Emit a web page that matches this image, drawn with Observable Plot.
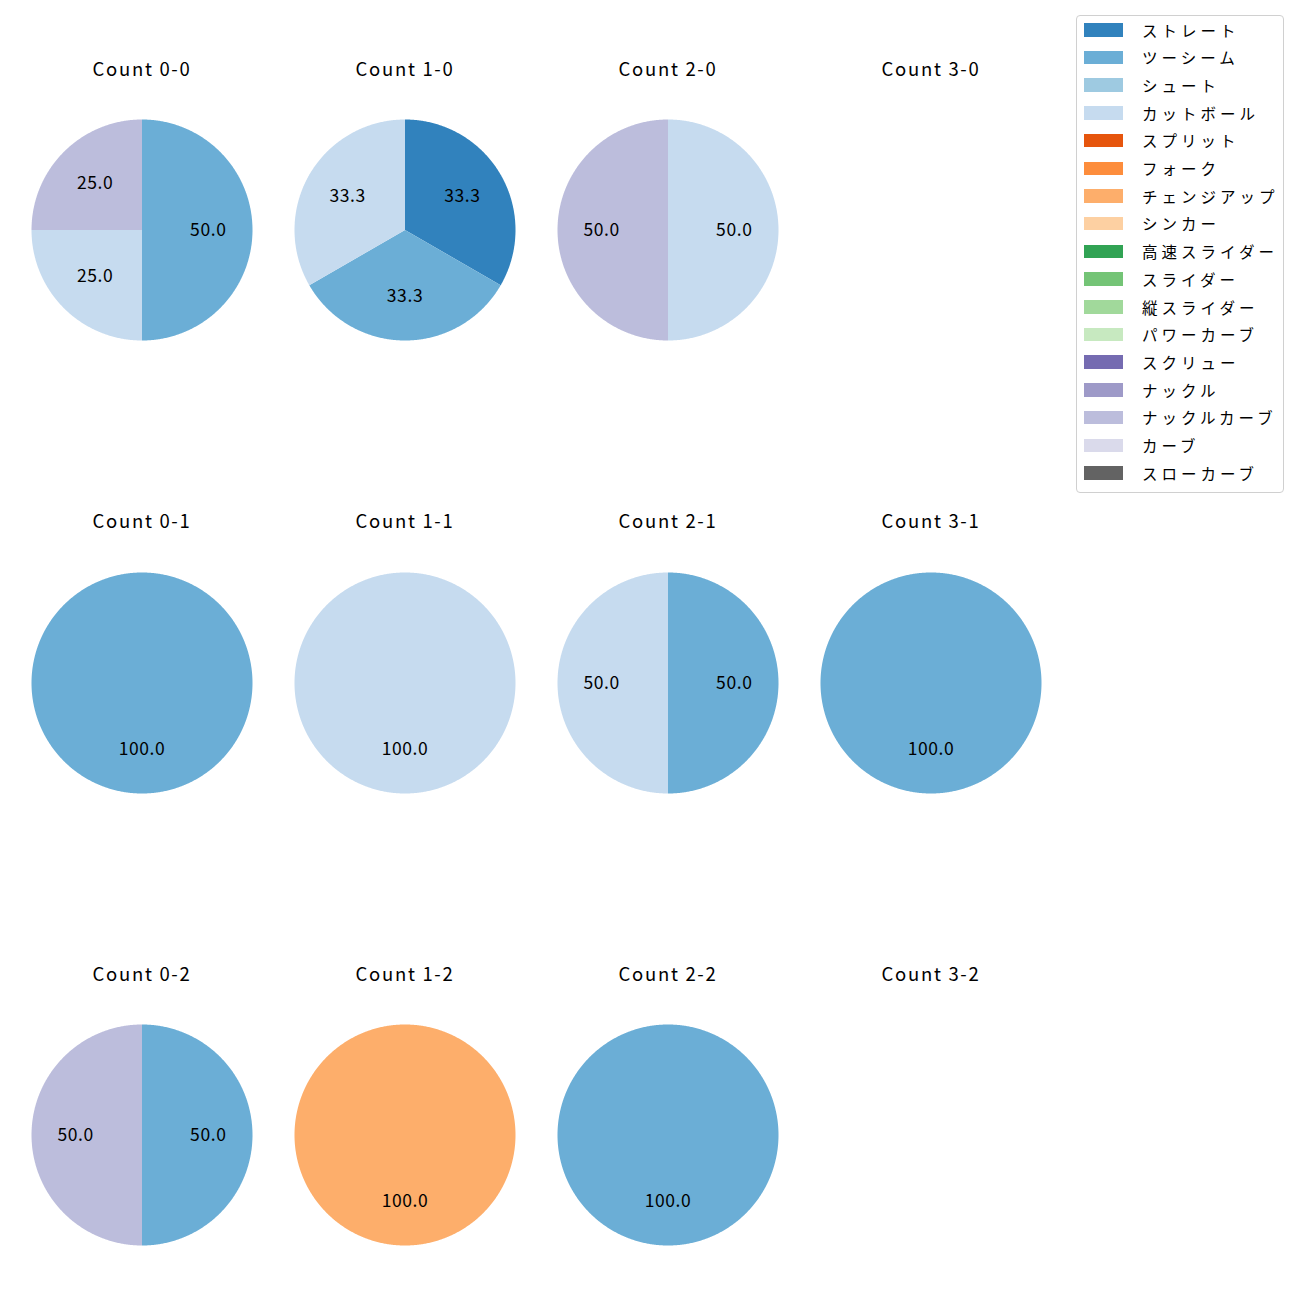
<!DOCTYPE html>
<html>
<head>
<meta charset="utf-8">
<script src="https://cdn.jsdelivr.net/npm/d3@7"></script>
<script src="https://cdn.jsdelivr.net/npm/@observablehq/plot@0.6"></script>
<style>
  html, body { margin: 0; padding: 0; background: #fff; }
  body { font-family: "Noto Sans CJK JP", "Noto Sans", sans-serif; }
  #root { position: relative; width: 1300px; height: 1300px; }
  .title { position: absolute; width: 200px; text-align: center; font-size: 18.5px; line-height: 22px; letter-spacing: 1.7px; color: #000; }
  .cell { position: absolute; }
  .legend { position: absolute; left: 1076px; top: 15px; width: 208px; height: 478px; border: 1px solid #d0d0d0; border-radius: 4px; box-sizing: border-box; background: #fff; }
  .lrow { position: absolute; left: 0; height: 20px; width: 205px; }
  .lpatch { position: absolute; left: 7px; top: 3.5px; width: 39px; height: 13.5px; }
  .ltext { position: absolute; left: 65px; top: 0; font-size: 15.5px; line-height: 20px; color: #000; white-space: nowrap; letter-spacing: 4px; }
</style>
</head>
<body>
<div id="root"></div>
<script>
// Pitch types (legend order) and colours
const pitchTypes = ["ストレート","ツーシーム","シュート","カットボール","スプリット","フォーク","チェンジアップ","シンカー","高速スライダー","スライダー","縦スライダー","パワーカーブ","スクリュー","ナックル","ナックルカーブ","カーブ","スローカーブ"];
const pitchColors = ["#3182bd","#6baed6","#9ecae1","#c6dbef","#e6550d","#fd8d3c","#fdae6b","#fdd0a2","#31a354","#74c476","#a1d99b","#c7e9c0","#756bb1","#9e9ac8","#bcbddc","#dadaeb","#636363"];

// Grid of counts: columns = balls, rows = strikes
const ballCounts = [0, 1, 2, 3];
const strikeCounts = [0, 1, 2];

// Slices: count, pitch type, number of pitches
const sliceCount = ["0-0","0-0","0-0","1-0","1-0","1-0","2-0","2-0","0-1","1-1","2-1","2-1","3-1","0-2","0-2","1-2","2-2"];
const slicePitch = ["ツーシーム","カットボール","ナックルカーブ","ストレート","ツーシーム","カットボール","カットボール","ナックルカーブ","ツーシーム","カットボール","ツーシーム","カットボール","ツーシーム","ツーシーム","ナックルカーブ","チェンジアップ","ツーシーム"];
const sliceValue = [2,1,1,1,1,1,1,1,1,1,1,1,1,1,1,1,1];

const root = document.getElementById("root");
const colCenters = [141, 404, 667, 930];
const rowCenters = [229.5, 682, 1134.5];
const titleY = [67.5, 520, 972.5];
const R = 110.5;
const M = 20;
const size = 2 * R + 2 * M;

strikeCounts.forEach((s, ri) => {
  ballCounts.forEach((b, ci) => {
    const key = `${b}-${s}`;
    const t = document.createElement("div");
    t.className = "title";
    t.textContent = `Count ${key}`;
    t.style.left = (colCenters[ci] - 100 + 1) + "px";
    t.style.top = (titleY[ri] - 11) + "px";
    root.appendChild(t);

    const slices = sliceCount.map((c, i) => ({c, pitch: slicePitch[i], value: sliceValue[i]}))
      .filter(d => d.c === key)
      .sort((a, b2) => pitchTypes.indexOf(a.pitch) - pitchTypes.indexOf(b2.pitch));
    if (!slices.length) return;
    const total = d3.sum(slices, d => d.value);
    const poly = [];
    const labels = [];
    let acc = 0;
    slices.forEach(d => {
      const a0 = acc / total * 2 * Math.PI;
      acc += d.value;
      const a1 = acc / total * 2 * Math.PI;
      const n = Math.max(2, Math.ceil((a1 - a0) / (Math.PI / 360)));
      poly.push({pitch: d.pitch, x: 0, y: 0});
      for (let k = 0; k <= n; k++) {
        const a = a0 + (a1 - a0) * k / n;
        poly.push({pitch: d.pitch, x: Math.sin(a), y: Math.cos(a)});
      }
      poly.push({pitch: d.pitch, x: 0, y: 0});
      const am = (a0 + a1) / 2;
      labels.push({x: 0.6 * Math.sin(am), y: 0.6 * Math.cos(am), text: (d.value / total * 100).toFixed(1)});
    });

    const plot = Plot.plot({
      width: size, height: size,
      margin: M,
      x: {domain: [-1, 1], axis: null},
      y: {domain: [-1, 1], axis: null},
      color: {domain: pitchTypes, range: pitchColors},
      style: {fontFamily: "'Noto Sans CJK JP', 'Noto Sans', sans-serif", background: "transparent", overflow: "visible", letterSpacing: "0.6px"},
      marks: [
        Plot.line(poly, {x: "x", y: "y", z: "pitch", fill: "pitch", stroke: "none", curve: "linear"}),
        Plot.text(labels, {x: "x", y: "y", text: "text", fontSize: 17.5, fill: "black"})
      ]
    });
    const cell = document.createElement("div");
    cell.className = "cell";
    cell.style.left = (colCenters[ci] - size / 2 + 0.5) + "px";
    cell.style.top = (rowCenters[ri] - size / 2) + "px";
    cell.appendChild(plot);
    root.appendChild(cell);
  });
});

// Legend
const legend = document.createElement("div");
legend.className = "legend";
pitchTypes.forEach((p, i) => {
  const row = document.createElement("div");
  row.className = "lrow";
  row.style.top = (3.5 + i * 27.7) + "px";
  const patch = document.createElement("div");
  patch.className = "lpatch";
  patch.style.background = pitchColors[i];
  const txt = document.createElement("div");
  txt.className = "ltext";
  txt.textContent = p;
  row.appendChild(patch);
  row.appendChild(txt);
  legend.appendChild(row);
});
root.appendChild(legend);
</script>
</body>
</html>
